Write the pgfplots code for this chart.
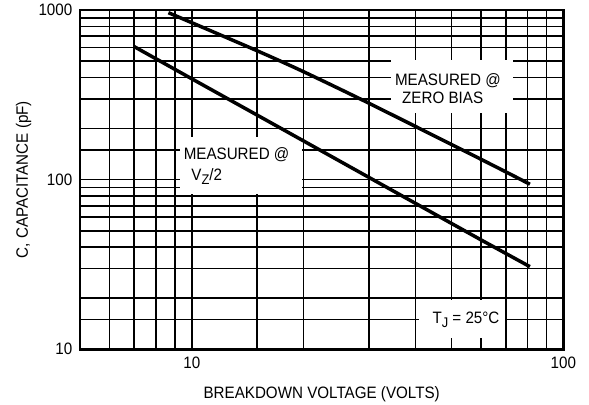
\documentclass[border=0pt]{standalone}
\usepackage{fontspec}
\setmainfont{Liberation Sans}[FakeStretch=0.92]
\usepackage{pgfplots}
\pgfplotsset{compat=1.18}
\newcommand\ff{\fontsize{16.5bp}{19bp}\selectfont}
\newcommand\sub[1]{\raisebox{-4.5bp}{\fontsize{14bp}{14bp}\selectfont #1}}
\begin{document}
\ff
\begin{tikzpicture}
\begin{axis}[
  name=ax,
  scale only axis, width=483.3bp, height=339.3bp,
  xmode=log, ymode=log,
  xmin=5, xmax=100, ymin=10, ymax=1000,
  xtick={10,100}, xticklabels={10,100},
  ytick={10,100,1000}, yticklabels={10,100,1000},
  minor xtick={6,7,8,9,15,20,30,40,50,60,70,80,90},
  minor ytick={15,20,30,40,50,60,70,80,90,150,200,300,400,500,600,700,800,900},
  grid=both,
  major grid style={line width=1.6bp, black},
  minor grid style={line width=1.6bp, black},
  major tick length=0pt, minor tick length=0pt,
  axis line style={line width=2.5bp, black},
  tick label style={font=\ff},
  label style={font=\ff},
  xticklabel style={anchor=north, inner sep=0pt, yshift=-7.4bp},
  yticklabel style={anchor=east, inner sep=0pt, xshift=-7.5bp},
  xlabel={BREAKDOWN VOLTAGE (VOLTS)},
  ylabel={C, CAPACITANCE (pF)},
  xlabel style={at={(axis description cs:0.5,-0.1444)}, anchor=base, inner sep=0pt},
  ylabel style={at={(axis description cs:-0.1076,0.5)}, anchor=base, inner sep=0pt},
]
% white label boxes
\fill[white] (axis cs:9.3,82) rectangle (axis cs:19.8,178);
\fill[white] (axis cs:34.4,247) rectangle (axis cs:73.1,507);
\fill[white] (axis cs:41.0,11.66) rectangle (axis cs:69.6,19.5);
% curves
\addplot[black, line width=3.5bp, line join=round, mark=none, smooth, tension=0.4] coordinates {
  (8.65,964) (14.83,581) (19.8,437) (29.7,285) (60.8,130) (81.3,94)
};
\addplot[black, line width=3.5bp, line join=round, mark=none] coordinates {
  (7.0,608) (10,393) (15,240) (20,169) (30,103) (40,72.5) (60,44.2) (81.3,30.7)
};
% labels
\node[anchor=base west, inner sep=0pt, font=\ff] at (axis cs:9.50,130.6) {MEASURED @};
\node[anchor=base west, inner sep=0pt, font=\ff] at (axis cs:9.96,99.5) {V\sub{Z}/2};
\node[anchor=base west, inner sep=0pt, font=\ff] at (axis cs:35.2,361) {MEASURED @};
\node[anchor=base west, inner sep=0pt, font=\ff] at (axis cs:36.8,281.8) {ZERO BIAS};
\node[anchor=base west, inner sep=0pt, font=\ff] at (axis cs:44.4,14.2) {T\sub{J} = 25°C};
\end{axis}
\pgfresetboundingbox
\path[use as bounding box] ([xshift=-80bp,yshift=-55.7bp]ax.south west) rectangle ([xshift=25.7bp,yshift=10bp]ax.north east);
\end{tikzpicture}
\end{document}
